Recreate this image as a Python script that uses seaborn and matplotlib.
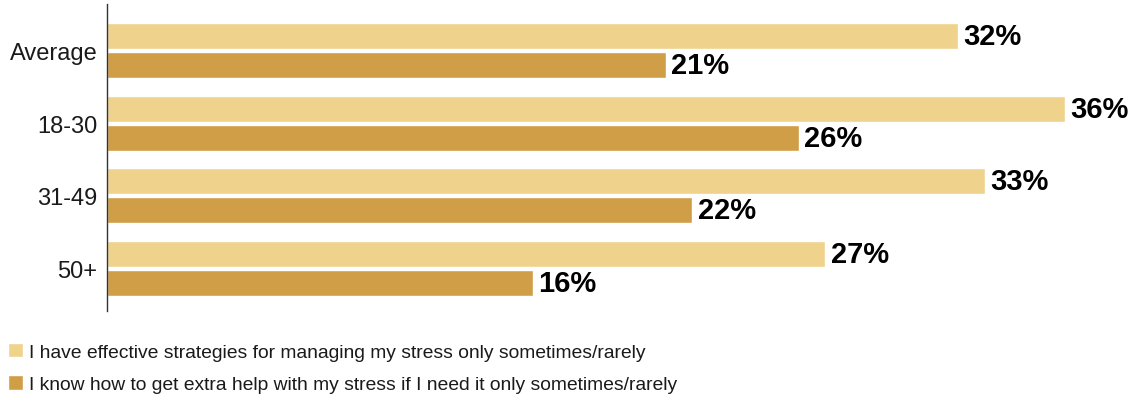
import matplotlib
matplotlib.use("Agg")
import matplotlib.pyplot as plt
import seaborn as sns
import pandas as pd

# Age groups and survey shares (percent)
groups = ["Average", "18-30", "31-49", "50+"]
strategies = [32, 36, 33, 27]
extra_help = [21, 26, 22, 16]
series_names = [
    "I have effective strategies for managing my stress only sometimes/rarely",
    "I know how to get extra help with my stress if I need it only sometimes/rarely",
]
colors = ["#EFD28C", "#D09E47"]

df = pd.DataFrame({
    "group": groups * 2,
    "value": strategies + extra_help,
    "series": [series_names[0]] * len(groups) + [series_names[1]] * len(groups),
})

sns.set_theme(style="white")
plt.rcParams["font.family"] = ["Liberation Sans", "DejaVu Sans"]

fig = plt.figure(figsize=(11.43, 4.02), dpi=100)
ax = fig.add_axes([107 / 1143, 1 - 312 / 402, 1 - 107 / 1143, 307 / 402])

sns.barplot(
    data=df, y="group", x="value", hue="series", order=groups,
    hue_order=series_names, palette=colors, orient="h",
    width=0.8, gap=0.1, saturation=1, ax=ax, legend=True,
)

for cont in ax.containers:
    ax.bar_label(cont, fmt="{:.0f}%", padding=4, fontsize=21,
                 fontweight="bold", color="black")

ax.set_xlim(0, 38.95)
ax.set_ylim(3.585, -0.64)
ax.set_xlabel("")
ax.set_ylabel("")
ax.set_xticks([])
ax.tick_params(axis="y", length=0, pad=7, labelsize=17, labelcolor="#1a1a1a")
for side in ["top", "right", "bottom"]:
    ax.spines[side].set_visible(False)
ax.spines["left"].set_color("#333333")
ax.spines["left"].set_linewidth(1.0)

handles, labels = ax.get_legend_handles_labels()
ax.get_legend().remove()
fig.legend(
    handles, labels, loc="upper left", bbox_to_anchor=(0.0, 1 - 336 / 402),
    frameon=False, fontsize=13.9, handlelength=0.8, handleheight=0.8,
    handletextpad=0.3, labelspacing=0.75, borderaxespad=0, borderpad=0.4,
    labelcolor="#1a1a1a",
)

fig.savefig("out.png", dpi=100)
